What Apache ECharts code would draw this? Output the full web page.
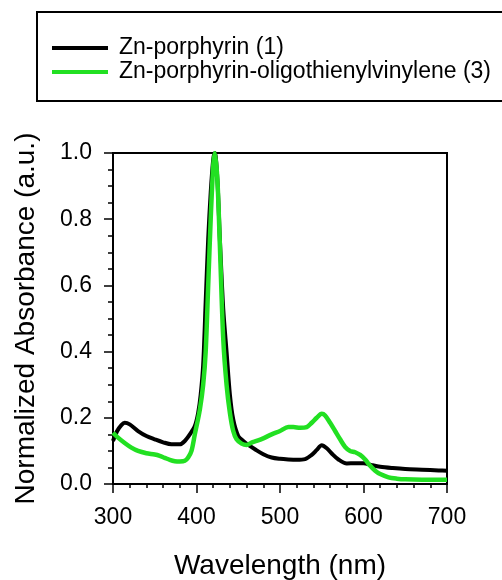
<!DOCTYPE html>
<html>
<head>
<meta charset="utf-8">
<script src="https://cdn.jsdelivr.net/npm/echarts@6/dist/echarts.min.js"></script>
<style>
html,body{margin:0;padding:0;background:#fff;}
#chart{width:502px;height:580px;}
</style>
</head>
<body>
<div id="chart"></div>
<script>
// Data
var seriesNames = ['Zn-porphyrin (1)', 'Zn-porphyrin-oligothienylvinylene (3)'];

var blackWl = [300,305,310,314,320,330,340,350,360,370,380,386,392,398,402,405,408,411,414,417,420,422,425,428,432,436,440,444,450,456,462,470,480,490,500,510,520,530,538,544,550,556,562,570,580,590,600,610,620,635,650,670,690,700];
var blackAbs = [0.13,0.16,0.178,0.185,0.18,0.16,0.145,0.135,0.126,0.12,0.12,0.13,0.15,0.175,0.215,0.27,0.36,0.55,0.74,0.88,0.98,1.0,0.92,0.74,0.53,0.4,0.27,0.195,0.145,0.13,0.118,0.105,0.09,0.08,0.076,0.074,0.073,0.075,0.088,0.103,0.117,0.108,0.092,0.074,0.062,0.063,0.063,0.057,0.052,0.048,0.045,0.043,0.041,0.040];

var greenWl = [300,306,314,322,330,340,350,356,362,368,374,380,386,390,394,398,404,408,411,414,417,420,422,425,428,432,436,440,444,448,454,460,466,472,480,490,500,510,516,524,532,538,544,550,554,560,566,572,578,584,590,596,602,608,614,620,630,640,650,670,700];
var greenAbs = [0.155,0.14,0.124,0.11,0.1,0.093,0.089,0.085,0.079,0.073,0.069,0.068,0.07,0.08,0.1,0.15,0.225,0.3,0.4,0.6,0.8,0.96,1.0,0.92,0.72,0.44,0.3,0.215,0.16,0.135,0.122,0.118,0.125,0.13,0.138,0.15,0.16,0.172,0.172,0.17,0.172,0.185,0.2,0.212,0.207,0.185,0.16,0.135,0.112,0.1,0.096,0.088,0.074,0.055,0.04,0.03,0.02,0.016,0.014,0.013,0.013];

var xTicks = [300, 400, 500, 600, 700];
var yTicks = [0.0, 0.2, 0.4, 0.6, 0.8, 1.0];
var xTitle = 'Wavelength (nm)';
var yTitle = 'Normalized Absorbance (a.u.)';

function zip(xs, ys) { return xs.map(function (x, i) { return [x, ys[i]]; }); }

var FONT = '"Liberation Sans", Arial, sans-serif';
var chart = echarts.init(document.getElementById('chart'), null, {renderer: 'canvas'});
chart.setOption({
  animation: false,
  backgroundColor: '#fff',
  textStyle: {fontFamily: FONT},
  legend: {
    orient: 'vertical',
    left: 37, top: 12,
    padding: [24, 40, 17, 15],
    itemGap: 0,
    itemWidth: 56,
    itemHeight: 4,
    icon: 'rect',
    borderColor: '#000',
    borderWidth: 2,
    borderRadius: 0,
    textStyle: {fontFamily: FONT, fontSize: 23, color: '#000', lineHeight: 24, padding: [0, 0, 0, 6]},
    data: seriesNames
  },
  grid: {
    left: 113, right: 55, top: 153, bottom: 96,
    containLabel: false,
    outerBoundsMode: 'none',
    show: true, borderColor: '#000', borderWidth: 2
  },
  xAxis: {
    type: 'value',
    min: xTicks[0], max: xTicks[xTicks.length - 1], interval: 100,
    name: xTitle, nameLocation: 'middle', nameGap: 68,
    nameTextStyle: {fontFamily: FONT, fontSize: 28, color: '#000'},
    axisLine: {show: true, onZero: false, lineStyle: {color: '#000', width: 2}},
    axisTick: {show: true, inside: false, length: 9, lineStyle: {color: '#000', width: 1.5}},
    minorTick: {show: true, splitNumber: 5, length: 4, lineStyle: {color: '#000', width: 1.5}},
    splitLine: {show: false},
    axisLabel: {fontFamily: FONT, fontSize: 23, color: '#000', margin: 22}
  },
  yAxis: {
    type: 'value',
    min: 0, max: 1, interval: 0.2,
    name: yTitle, nameLocation: 'middle', nameGap: 73,
    nameTextStyle: {fontFamily: FONT, fontSize: 28, color: '#000'},
    axisLine: {show: true, onZero: false, lineStyle: {color: '#000', width: 2}},
    axisTick: {show: true, inside: false, length: 9, lineStyle: {color: '#000', width: 1.5}},
    minorTick: {show: true, splitNumber: 4, length: 5, lineStyle: {color: '#000', width: 1.5}},
    splitLine: {show: false},
    axisLabel: {fontFamily: FONT, fontSize: 23, color: '#000', margin: 21,
      formatter: function (v) { return v.toFixed(1); }}
  },
  series: [
    {
      name: seriesNames[0], type: 'line', showSymbol: false, symbol: 'none',
      smooth: 0.3, clip: true,
      data: zip(blackWl, blackAbs),
      lineStyle: {color: '#000', width: 4},
      itemStyle: {color: '#000'}
    },
    {
      name: seriesNames[1], type: 'line', showSymbol: false, symbol: 'none',
      smooth: 0.3, clip: true,
      data: zip(greenWl, greenAbs),
      lineStyle: {color: '#22e022', width: 4.5},
      itemStyle: {color: '#22e022'}
    }
  ]
});
</script>
</body>
</html>
